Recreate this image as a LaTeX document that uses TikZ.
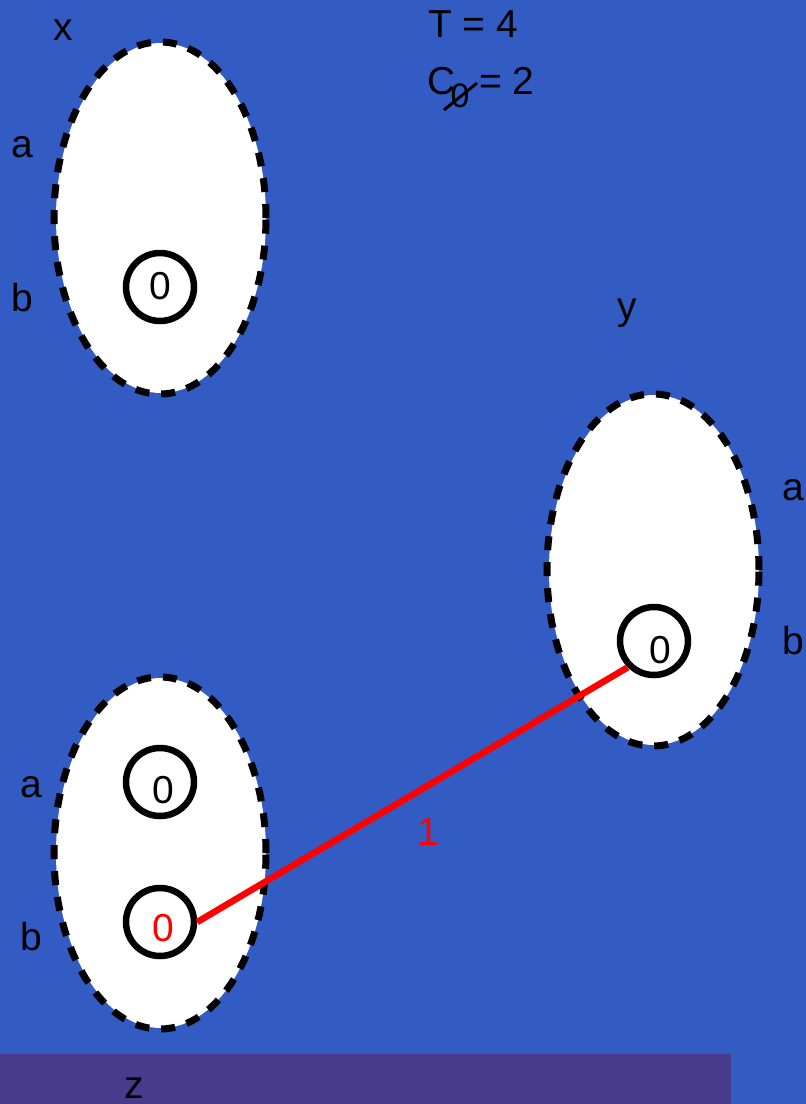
\documentclass[tikz,border=0pt]{standalone}
\usepackage{fontspec}
\setmainfont{Liberation Sans}
\usetikzlibrary{shapes.geometric}
\definecolor{bgblue}{RGB}{51,91,196}
\definecolor{strip}{RGB}{73,59,140}
\begin{document}
\begin{tikzpicture}[x=1pt,y=-1pt,
  font=\fontsize{39}{45}\selectfont,
  setfill/.style={fill=white,draw=none,ellipse,minimum width=210pt,minimum height=350pt,inner sep=0pt},
  set/.style={draw=black,line width=7pt,dash pattern=on 14pt off 12pt,ellipse,minimum width=212pt,minimum height=352pt,inner sep=0pt},
  val/.style={circle,draw=black,line width=6.5pt,minimum size=68pt,inner sep=0pt},
  lab/.style={inner sep=0pt,anchor=center},
  link/.style={red,line width=6.5pt}]
\fill[bgblue] (0,0) rectangle (806,1104);
\useasboundingbox (0,0) rectangle (806,1104);
\fill[strip] (0,1054) rectangle (731,1104);
% sets
\node[setfill] at (161,218) {};
\node[setfill] at (654,570) {};
\node[setfill] at (161,853) {};
\node[set] (X) at (160,218) {};
\node[set] (Y) at (653,570) {};
\node[set] (Z) at (160,853) {};
% value circles
\node[val] (xb) at (160,287) {};
\node[lab] at (160,286) {0};
\node[val] (yb) at (654,641) {};
\node[lab] at (660,650) {0};
\node[val] (za) at (160,782) {};
\node[lab] at (163,790) {0};
\node[val] (zb) at (160,922) {};
\node[lab,red] at (163,928) {0};
% link
\draw[link] (zb.east) -- (yb.south west);
\node[lab,red] (w) at (428,832) {1};
% labels
\node[lab] (lx) at (63,30) {x};
\node[lab] (lxa) at (22,147) {a};
\node[lab] (lxb) at (22,298) {b};
\node[lab] (ly) at (627,313) {y};
\node[lab] (lya) at (793,490) {a};
\node[lab] (lyb) at (793,641) {b};
\node[lab] (lza) at (31,787) {a};
\node[lab] (lzb) at (31,937) {b};
\node[lab] (lz) at (134,1088) {z};
% top text
\node[lab] (T) at (473,24) {T = 4};
\node[lab] (C) at (442,81) {C};
\node[lab,font=\fontsize{34}{40}\selectfont] (zero) at (460,96) {0};
\draw[line width=3pt] (444,110) -- (477,83);
\node[lab] (eq) at (507,81) {= 2};
\end{tikzpicture}
\end{document}
